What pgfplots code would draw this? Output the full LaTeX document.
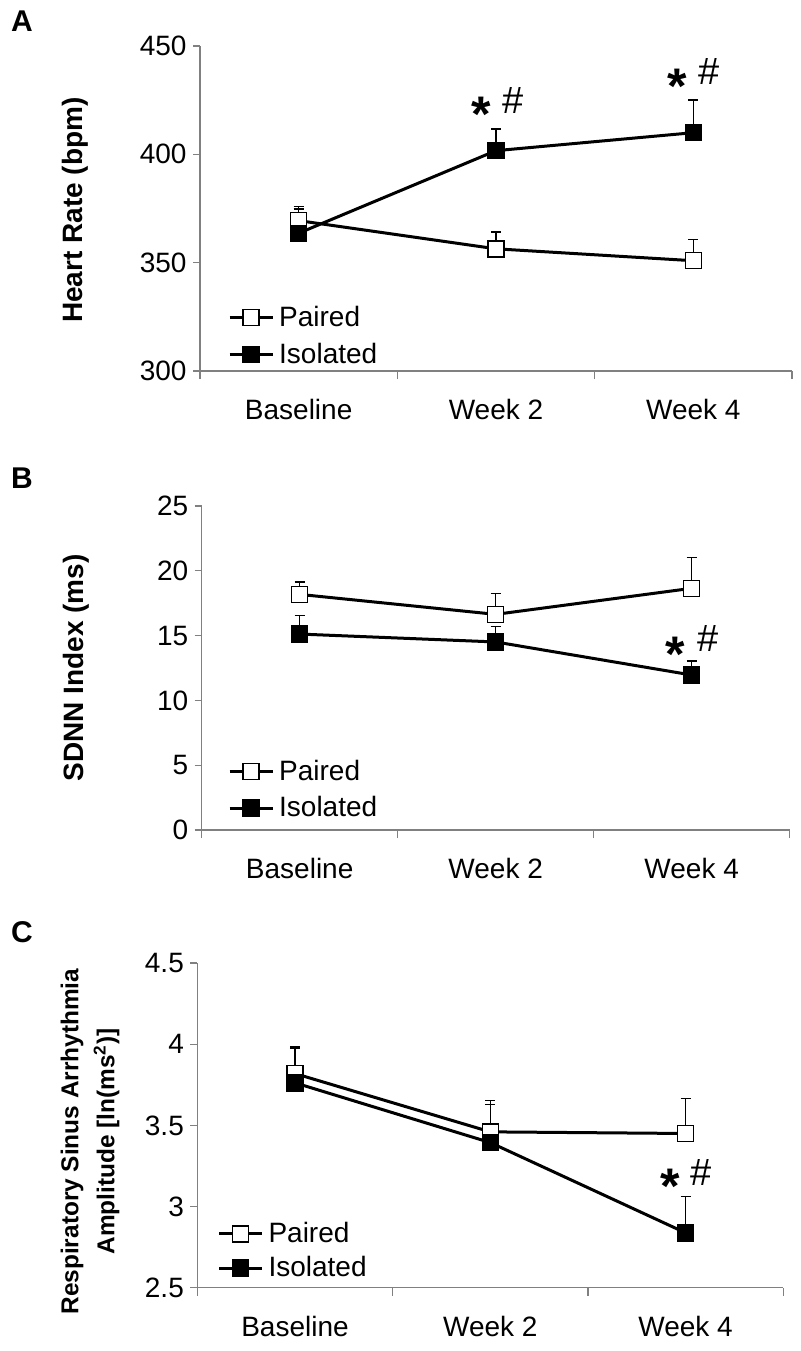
\documentclass[border=0pt]{standalone}
\usepackage{fontspec}
\setmainfont{Liberation Sans}
\usepackage{pgfplots}
\pgfplotsset{compat=1.18}
\definecolor{axgray}{RGB}{128,128,128}
\newcommand{\tfont}{\fontsize{14}{16}\selectfont}
\pgfplotsset{
  panel/.style={
    scale only axis,
    axis lines=left,
    axis line style={-, axgray, line width=0.6pt},
    tick align=outside,
    xmin=-0.5, xmax=2.5,
    xtick={0,1,2},
    xticklabels={Baseline, Week 2, Week 4},
    minor xtick={-0.5,0.5,1.5,2.5},
    major x tick style={draw=none},
    minor x tick style={axgray, line width=0.6pt},
    minor tick length=4pt,
    major tick length=3.5pt,
    y tick style={axgray, line width=0.6pt},
    tick label style={font=\tfont, black},
    /pgf/number format/assume math mode=true,
    xticklabel style={yshift=-7pt},
    yticklabel style={xshift=0.3pt},
    ylabel style={font=\bfseries\fontsize{14}{16}\selectfont, anchor=center},
    clip=false,
    legend style={draw=none, fill=none, inner sep=0pt, outer sep=0pt,
      row sep=1.7pt, font=\tfont, anchor=north west, legend cell align=left,
      nodes={inner sep=2.5pt}},
    legend image code/.code={\draw[mark repeat=2,mark phase=2] plot coordinates {(0pt,0pt)(10.75pt,0pt)(21.5pt,0pt)};},
  },
  paired/.style={black, line width=1.5pt, mark=square*, mark size=4pt,
    mark options={fill=white, draw=black, line width=0.7pt, solid},
    error bars/.cd, y dir=plus, y explicit,
    error bar style={line width=0.6pt, black},
    error mark options={rotate=90, mark size=2.5pt, line width=0.6pt, black}},
  isolated/.style={black, line width=1.5pt, mark=square*, mark size=4pt,
    mark options={fill=black, draw=black, line width=0.7pt, solid},
    error bars/.cd, y dir=plus, y explicit,
    error bar style={line width=0.6pt, black},
    error mark options={rotate=90, mark size=2.5pt, line width=0.6pt, black}},
}
\newcommand{\sigstar}[2]{\node[anchor=north, inner sep=0pt] at (axis cs:#1,#2) {\bfseries\fontsize{25}{25}\selectfont *};}
\newcommand{\sighash}[2]{\node[anchor=south, inner sep=0pt] at (axis cs:#1,#2) {\fontsize{19}{20}\selectfont\#};}

\pgfplotstableread{
x y e
0 369.4 6.5
1 356.4 7.8
2 350.9 9.7
}\hrPaired
\pgfplotstableread{
x y e
0 363.6 11.2
1 401.7 10.0
2 410.0 15.1
}\hrIsolated
\pgfplotstableread{
x y e
0 18.18 0.96
1 16.64 1.62
2 18.65 2.39
}\sdPaired
\pgfplotstableread{
x y e
0 15.12 1.42
1 14.51 1.20
2 11.96 1.08
}\sdIsolated
\pgfplotstableread{
x y e
0 3.819 0.164
1 3.460 0.193
2 3.450 0.217
}\rsaPaired
\pgfplotstableread{
x y e
0 3.762 0.213
1 3.394 0.234
2 2.838 0.222
}\rsaIsolated

\begin{document}
\begin{tikzpicture}
\useasboundingbox (0,0) rectangle (400pt,-675.5pt);
\node[font=\bfseries\fontsize{15}{15}\selectfont] at (11pt,-10.8pt) {A};
\node[font=\bfseries\fontsize{15}{15}\selectfont] at (11pt,-239pt) {B};
\node[font=\bfseries\fontsize{15}{15}\selectfont] at (11pt,-466.3pt) {C};

% Panel A
\begin{axis}[panel, at={(100pt,-185.5pt)}, anchor=south west,
  width=296pt, height=162.5pt,
  ymin=300, ymax=450, ytick={300,350,400,450},
  ylabel={Heart Rate (bpm)},
  ylabel style={at={(axis description cs:-0.211,0.495)}},
  legend style={at={(axis description cs:0.0476,0.215)}}]
\addplot[paired] table[x=x,y=y,y error=e] {\hrPaired};
\addlegendentry{Paired}
\addplot[isolated] table[x=x,y=y,y error=e] {\hrIsolated};
\addlegendentry{Isolated}
\sigstar{0.925}{426.6}\sighash{1.085}{418.8}
\sigstar{1.92}{439.7}\sighash{2.08}{431.9}
\end{axis}

% Panel B
\begin{axis}[panel, at={(100.85pt,-415pt)}, anchor=south west,
  width=294pt, height=162pt,
  ymin=0, ymax=25, ytick={0,5,10,15,20,25},
  ylabel={SDNN Index (ms)},
  ylabel style={at={(axis description cs:-0.214,0.5)}},
  legend style={at={(axis description cs:0.045,0.232)}}]
\addplot[paired] table[x=x,y=y,y error=e] {\sdPaired};
\addlegendentry{Paired}
\addplot[isolated] table[x=x,y=y,y error=e] {\sdIsolated};
\addlegendentry{Isolated}
\sigstar{1.918}{14.92}\sighash{2.082}{13.75}
\end{axis}

% Panel C
\begin{axis}[panel, at={(98.65pt,-643.85pt)}, anchor=south west,
  width=293pt, height=162.35pt,
  ymin=2.5, ymax=4.5, ytick={2.5,3,3.5,4,4.5},
  yticklabel style={/pgf/number format/.cd, fixed, precision=1},
  ylabel={Respiratory Sinus Arrhythmia\\Amplitude [ln(ms\textsuperscript{2})]},
  ylabel style={at={(axis description cs:-0.183,0.45)}, align=center,
    font=\bfseries\fontsize{12.2}{18}\selectfont},
  legend style={at={(axis description cs:0.0345,0.217)}, row sep=0.5pt}]
\addplot[paired] table[x=x,y=y,y error=e] {\rsaPaired};
\addlegendentry{Paired}
\addplot[isolated] table[x=x,y=y,y error=e] {\rsaIsolated};
\addlegendentry{Isolated}
\sigstar{1.921}{3.234}\sighash{2.080}{3.13}
\end{axis}
\end{tikzpicture}
\end{document}
